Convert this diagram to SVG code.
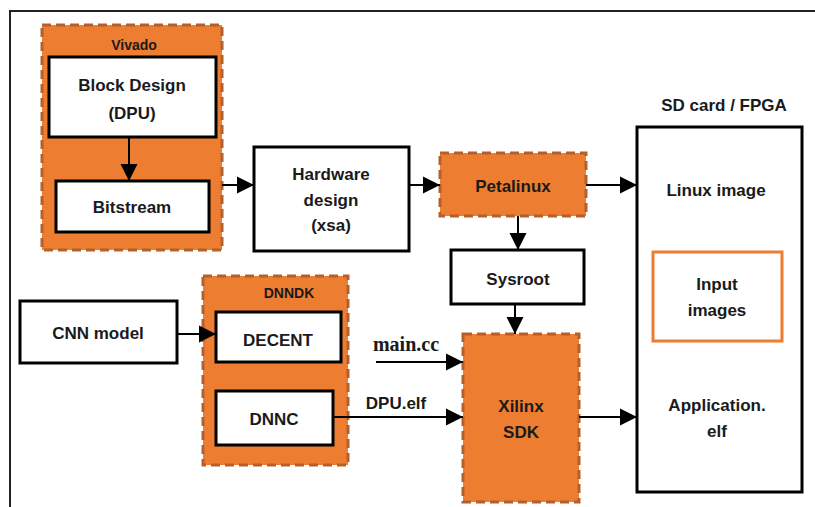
<svg xmlns="http://www.w3.org/2000/svg" width="815" height="507" viewBox="0 0 815 507">
<style>
.box{fill:#fff;stroke:#000;stroke-width:3}
.grp{fill:#ED7D31;stroke:#B5602A;stroke-width:3;stroke-dasharray:9 5}
.t{font-family:"Liberation Sans",Arial,sans-serif;font-weight:bold;font-size:17px;fill:#1a1a1a;text-anchor:middle;dominant-baseline:central}
.s{font-size:14px}
.ser{font-family:"Liberation Serif","Times New Roman",serif;font-size:20px}
.c{stroke:#000;stroke-width:2;fill:none;marker-end:url(#ah)}
</style>
<defs>
<marker id="ah" markerUnits="userSpaceOnUse" markerWidth="18" markerHeight="18" refX="17" refY="9" orient="auto">
<path d="M0,0.5 L17,9 L0,17.5 Z" fill="#000"/>
</marker>
</defs>
<rect width="815" height="507" fill="#fff"/>
<path d="M10,507 L10,11 L815,11" fill="none" stroke="#222" stroke-width="2"/>

<g id="vivado">
<rect class="grp" x="42" y="25" width="180" height="225"/>
<text class="t s" x="134" y="45">Vivado</text>
</g>
<g id="block-design">
<rect class="box" x="49" y="57" width="167" height="80"/>
<text class="t" x="132" y="85">Block Design</text>
<text class="t" x="132" y="113">(DPU)</text>
</g>
<g id="bitstream">
<rect class="box" x="56" y="181" width="153" height="51"/>
<text class="t" x="132" y="207">Bitstream</text>
</g>
<g id="hardware-design">
<rect class="box" x="254" y="147" width="155" height="104"/>
<text class="t" x="331" y="174">Hardware</text>
<text class="t" x="331" y="200">design</text>
<text class="t" x="331" y="225">(xsa)</text>
</g>
<g id="petalinux">
<rect class="grp" x="440" y="153" width="146" height="63"/>
<text class="t" x="513" y="186">Petalinux</text>
</g>
<g id="sysroot">
<rect class="box" x="451" y="250" width="133" height="54"/>
<text class="t" x="518" y="279">Sysroot</text>
</g>
<g id="dnndk">
<rect class="grp" x="203" y="276" width="145" height="189"/>
<text class="t s" x="289" y="293">DNNDK</text>
</g>
<g id="cnn-model">
<rect class="box" x="20" y="301" width="157" height="62"/>
<text class="t" x="98" y="333">CNN model</text>
</g>
<g id="decent">
<rect class="box" x="216" y="312" width="125" height="50"/>
<text class="t" x="278" y="340">DECENT</text>
</g>
<g id="dnnc">
<rect class="box" x="216" y="391" width="117" height="54"/>
<text class="t" x="274" y="419">DNNC</text>
</g>
<g id="xilinx-sdk">
<rect class="grp" x="463" y="334" width="116" height="168"/>
<text class="t" x="521" y="406">Xilinx</text>
<text class="t" x="521" y="432">SDK</text>
</g>
<g id="sd-card">
<text class="t" x="724" y="105">SD card / FPGA</text>
<rect class="box" x="637" y="127" width="165" height="365"/>
<text class="t" x="716" y="190">Linux image</text>
<text class="t" x="717" y="405">Application.</text>
<text class="t" x="717" y="431">elf</text>
</g>
<g id="input-images">
<rect x="653" y="252" width="129" height="89" fill="#fff" stroke="#ED7D31" stroke-width="3"/>
<text class="t" x="717" y="284">Input</text>
<text class="t" x="717" y="310">images</text>
</g>

<g id="connectors">
<path class="c" d="M129,137 L129,181"/>
<path class="c" d="M222,185 L254,185"/>
<path class="c" d="M409,185 L440,185"/>
<path class="c" d="M586,185 L637,185"/>
<path class="c" d="M518,216 L518,250"/>
<path class="c" d="M515,304 L515,334"/>
<path class="c" d="M177,334 L216,334"/>
<path class="c" d="M376,362 L463,362"/>
<path class="c" d="M333,417 L463,417"/>
<path class="c" d="M579,417 L637,417"/>
<text class="t ser" x="406" y="344">main.cc</text>
<text class="t" x="396" y="403">DPU.elf</text>
</g>
</svg>
